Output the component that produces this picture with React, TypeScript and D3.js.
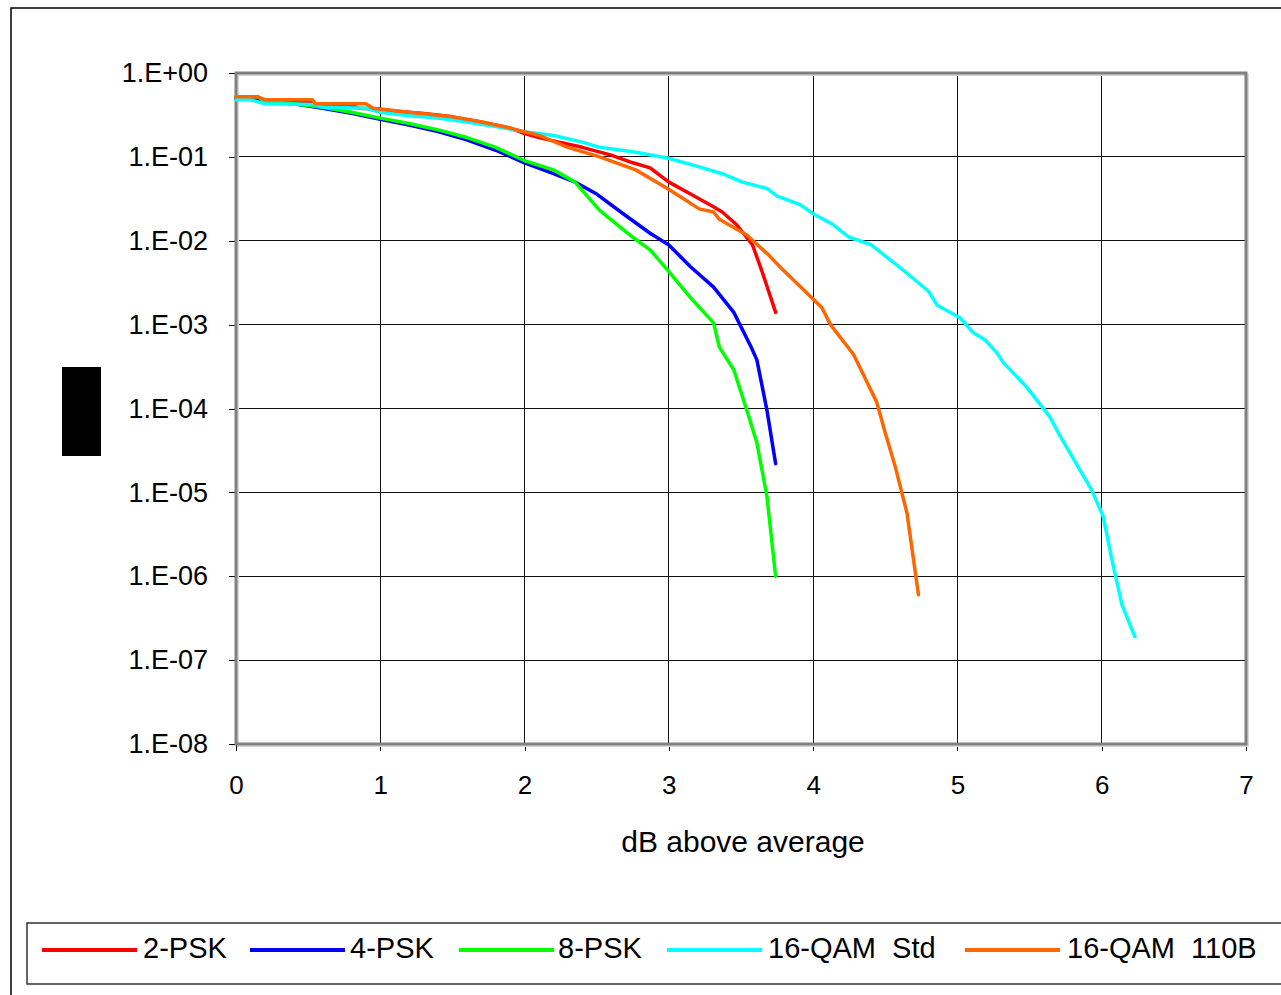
import React, { useEffect, useRef } from 'react';
import * as d3 from 'd3';

// series (x = dB above average, y = probability)
const names = ['2-PSK', '4-PSK', '8-PSK', '16-QAM Std', '16-QAM 110B'];
const colors = ['#ff0000', '#0000ff', '#00ff00', '#00ffff', '#ff6600'];

const psk2X = [0, 0.15, 0.2, 0.5, 0.55, 0.8, 0.85, 1.0, 1.1, 1.3, 1.5, 1.7, 1.9, 2.0, 2.1, 2.2, 2.4, 2.6, 2.75, 2.87, 3.0, 3.15, 3.3, 3.37, 3.47, 3.58, 3.65, 3.74];
const psk2Y = [0.52, 0.52, 0.47, 0.46, 0.42, 0.41, 0.38, 0.37, 0.35, 0.33, 0.3, 0.26, 0.22, 0.19, 0.17, 0.155, 0.13, 0.105, 0.085, 0.074, 0.05, 0.036, 0.026, 0.022, 0.0155, 0.0089, 0.0041, 0.0014];

const psk4X = [0, 0.1, 0.2, 0.4, 0.6, 0.8, 1.0, 1.2, 1.4, 1.6, 1.8, 2.0, 2.2, 2.35, 2.5, 2.7, 2.87, 3.0, 3.15, 3.31, 3.45, 3.57, 3.61, 3.68, 3.74];
const psk4Y = [0.5, 0.5, 0.45, 0.43, 0.38, 0.33, 0.28, 0.24, 0.2, 0.16, 0.12, 0.085, 0.063, 0.05, 0.036, 0.02, 0.0123, 0.0089, 0.0049, 0.0028, 0.0014, 0.00054, 0.00038, 0.000095, 0.000022];

const psk8X = [0, 0.15, 0.2, 0.4, 0.6, 0.8, 1.0, 1.2, 1.4, 1.6, 1.8, 2.0, 2.2, 2.35, 2.52, 2.75, 2.87, 2.99, 3.15, 3.31, 3.35, 3.45, 3.54, 3.61, 3.68, 3.74];
const psk8Y = [0.52, 0.52, 0.46, 0.43, 0.39, 0.34, 0.29, 0.25, 0.21, 0.17, 0.13, 0.09, 0.07, 0.05, 0.023, 0.011, 0.0078, 0.0045, 0.0021, 0.00105, 0.00054, 0.00029, 0.000096, 0.000039, 0.0000089, 0.000001];

const qamStdX = [0, 0.1, 0.2, 0.55, 0.6, 0.9, 1.0, 1.2, 1.4, 1.6, 1.8, 2.0, 2.2, 2.4, 2.52, 2.75, 2.99, 3.21, 3.37, 3.51, 3.68, 3.75, 3.91, 4.0, 4.14, 4.25, 4.4, 4.6, 4.8, 4.86, 5.02, 5.11, 5.19, 5.27, 5.32, 5.48, 5.64, 5.7, 5.93, 6.01, 6.07, 6.14, 6.23];
const qamStdY = [0.48, 0.48, 0.43, 0.42, 0.39, 0.38, 0.34, 0.31, 0.29, 0.26, 0.23, 0.2, 0.18, 0.15, 0.13, 0.115, 0.097, 0.076, 0.063, 0.05, 0.042, 0.034, 0.027, 0.021, 0.0155, 0.011, 0.009, 0.0048, 0.0025, 0.0017, 0.0012, 0.0008, 0.00066, 0.00047, 0.00035, 0.00018, 0.00008, 0.000051, 0.0000107, 0.0000052, 0.0000016, 0.00000046, 0.00000019];

const qam110X = [0, 0.15, 0.2, 0.53, 0.55, 0.9, 0.95, 1.2, 1.5, 1.7, 1.9, 2.1, 2.3, 2.52, 2.77, 2.99, 3.21, 3.31, 3.35, 3.54, 3.69, 3.79, 4.06, 4.12, 4.28, 4.44, 4.5, 4.57, 4.65, 4.73];
const qam110Y = [0.52, 0.52, 0.48, 0.48, 0.43, 0.43, 0.38, 0.34, 0.3, 0.26, 0.22, 0.18, 0.13, 0.1, 0.07, 0.042, 0.024, 0.022, 0.018, 0.0117, 0.0068, 0.0045, 0.0016, 0.001, 0.00044, 0.00012, 0.000051, 0.00002, 0.0000057, 0.0000006];

const seriesX = [psk2X, psk4X, psk8X, qamStdX, qam110X];
const seriesY = [psk2Y, psk4Y, psk8Y, qamStdY, qam110Y];

const xTicks = [0, 1, 2, 3, 4, 5, 6, 7];
const yTicks = [1, 1e-1, 1e-2, 1e-3, 1e-4, 1e-5, 1e-6, 1e-7, 1e-8];
const xTitle = 'dB above average';

// legend layout (sample start, text start)
const legendLineX = [42, 250, 459, 667, 965];
const legendTextX = [143, 350, 558, 768, 1067];

const W = 1281;
const H = 995;
const left = 236, right = 1246, top = 73, bottom = 744;
const font = 'Liberation Sans, Arial, sans-serif';

const fmt = (v: number) => {
    const e = Math.round(Math.log10(v));
    return '1.E' + (e < 0 ? '-' : '+') + String(Math.abs(e)).padStart(2, '0');
};

const App = () => {
    const svgRef = useRef<SVGSVGElement>(null);

    useEffect(() => {
        const svg = d3.select(svgRef.current);
        svg.selectAll('*').remove();

        const x = d3.scaleLinear().domain([0, 7]).range([left, right]);
        const y = d3.scaleLog().domain([1e-8, 1]).range([bottom, top]);

        // outer chart border
        svg.append('rect')
            .attr('x', 11).attr('y', 8).attr('width', 1300).attr('height', 1000)
            .attr('fill', 'white').attr('stroke', '#000').attr('stroke-width', 1.5);

        // grid
        svg.append('g').attr('shape-rendering', 'crispEdges')
            .selectAll('line').data(yTicks).join('line')
            .attr('x1', left).attr('x2', right)
            .attr('y1', d => y(d)).attr('y2', d => y(d))
            .attr('stroke', '#111').attr('stroke-width', 1);
        svg.append('g').attr('shape-rendering', 'crispEdges')
            .selectAll('line').data(xTicks).join('line')
            .attr('x1', d => x(d)).attr('x2', d => x(d))
            .attr('y1', top).attr('y2', bottom)
            .attr('stroke', '#111').attr('stroke-width', 1);

        // axes
        const yAxis = d3.axisLeft(y).tickValues(yTicks).tickFormat(d => fmt(d as number))
            .tickSize(7).tickSizeOuter(0).tickPadding(21);
        const gy = svg.append('g').attr('transform', `translate(${left},0)`).call(yAxis);
        gy.select('.domain').remove();
        gy.selectAll('line').attr('shape-rendering', 'crispEdges');
        gy.selectAll('text').attr('font-size', 27).attr('font-family', font).attr('fill', '#000');

        const xAxis = d3.axisBottom(x).tickValues(xTicks).tickFormat(d3.format('d'))
            .tickSize(7).tickSizeOuter(0).tickPadding(25);
        const gx = svg.append('g').attr('transform', `translate(0,${bottom})`).call(xAxis);
        gx.select('.domain').remove();
        gx.selectAll('line').attr('shape-rendering', 'crispEdges');
        gx.selectAll('text').attr('font-size', 26).attr('font-family', font).attr('fill', '#000');

        // plot frame
        svg.append('rect')
            .attr('x', left + 2).attr('y', top + 2).attr('width', right - left).attr('height', bottom - top)
            .attr('fill', 'none').attr('stroke', '#d8d8d8').attr('stroke-width', 2);
        svg.append('rect')
            .attr('x', left).attr('y', top).attr('width', right - left).attr('height', bottom - top)
            .attr('fill', 'none').attr('stroke', '#808080').attr('stroke-width', 3);

        // curves
        const line = d3.line<[number, number]>().x(d => x(d[0])).y(d => y(d[1]));
        seriesX.forEach((xs, i) => {
            const pts = xs.map((v, j) => [v, seriesY[i][j]] as [number, number]);
            svg.append('path')
                .attr('d', line(pts))
                .attr('fill', 'none')
                .attr('stroke', colors[i])
                .attr('stroke-width', 3.5)
                .attr('stroke-linejoin', 'round')
                .attr('stroke-linecap', 'round');
        });

        // x title
        svg.append('text')
            .attr('x', 743).attr('y', 852)
            .attr('text-anchor', 'middle')
            .attr('font-size', 30).attr('font-family', font)
            .text(xTitle);

        // y title (rendered as a black block in the source)
        svg.append('rect').attr('x', 62).attr('y', 367).attr('width', 39).attr('height', 89).attr('fill', '#000');

        // legend
        svg.append('rect')
            .attr('x', 27).attr('y', 923).attr('width', 1300).attr('height', 61)
            .attr('fill', 'white').attr('stroke', '#333').attr('stroke-width', 1.5);
        const lg = svg.append('g').selectAll('g').data(names).join('g');
        lg.append('line')
            .attr('x1', (d, i) => legendLineX[i]).attr('x2', (d, i) => legendLineX[i] + 95)
            .attr('y1', 950).attr('y2', 950)
            .attr('stroke', (d, i) => colors[i]).attr('stroke-width', 4);
        lg.append('text')
            .attr('x', (d, i) => legendTextX[i]).attr('y', 958)
            .attr('font-size', 29).attr('font-family', font)
            .attr('xml:space', 'preserve')
            .text(d => d.replace(' ', '  '));
    }, []);

    return (
        <div style={{ position: 'absolute', left: 0, top: 0 }}>
            <svg ref={svgRef} width={W} height={H} style={{ display: 'block', background: 'white' }} />
        </div>
    );
};

export default App;
